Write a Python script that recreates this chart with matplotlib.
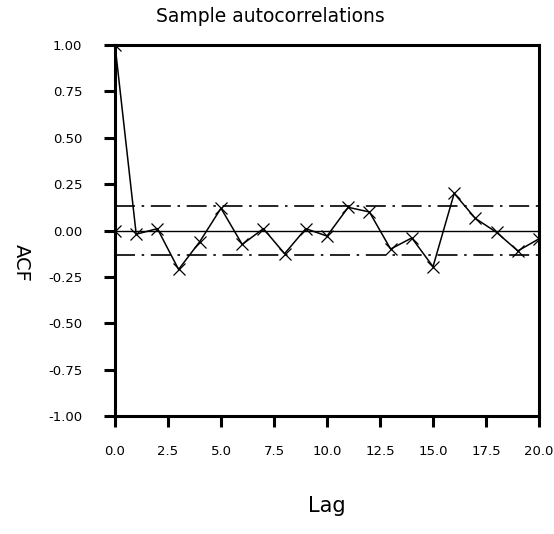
import numpy as np
import matplotlib
matplotlib.use('Agg')
import matplotlib.pyplot as plt

# sample ACF
lags = [0, 1, 2, 3, 4, 5, 6, 7, 8, 9, 10, 11, 12, 13, 14, 15, 16, 17, 18, 19, 20]
acf = [1.00, -0.02, 0.01, -0.21, -0.06, 0.12, -0.075, 0.01, -0.125, 0.01, -0.03,
       0.125, 0.10, -0.10, -0.04, -0.195, 0.20, 0.065, -0.01, -0.11, -0.045]
conf_band = 0.133

yticks = [1.00, 0.75, 0.50, 0.25, 0.00, -0.25, -0.50, -0.75, -1.00]
xticks = [0.0, 2.5, 5.0, 7.5, 10.0, 12.5, 15.0, 17.5, 20.0]

plt.rcParams['font.family'] = ['DejaVu Sans']

fig = plt.figure(figsize=(5.54, 5.34), dpi=100)
ax = fig.add_axes([115/554, 1 - 416/534, (539 - 115)/554, (416 - 45)/534])

ax.axhline(0, color='k', lw=1.0)
ax.axhline(conf_band, color='k', lw=1.2, dashes=[12, 4, 1.5, 4])
ax.axhline(-conf_band, color='k', lw=1.2, dashes=[12, 4, 1.5, 4])
ax.plot(lags, acf, color='k', lw=1.1, marker='x', ms=9, mew=0.9)
ax.plot([0], [0], color='k', marker='x', ms=9, mew=0.9)

ax.set_xlim(0, 20)
ax.set_ylim(-1, 1)
ax.set_xticks(xticks)
ax.set_xticklabels(['%.1f' % v for v in xticks])
ax.set_yticks(yticks)
ax.set_yticklabels(['%.2f' % v for v in yticks])
ax.tick_params(direction='out', length=8, width=2.2, labelsize=9.5)
ax.tick_params(axis='x', pad=13)
ax.tick_params(axis='y', pad=15.5)
for s in ax.spines.values():
    s.set_linewidth(2.2)

fig.text(270/554, 1 - 17/534, 'Sample autocorrelations', ha='center', va='center', fontsize=13.5)
fig.text(327/554, 1 - 506/534, 'Lag', ha='center', va='center', fontsize=15)
fig.text(21/554, 1 - 263/534, 'ACF', ha='center', va='center', fontsize=14, rotation=-90)

fig.savefig('out.png', dpi=100)
